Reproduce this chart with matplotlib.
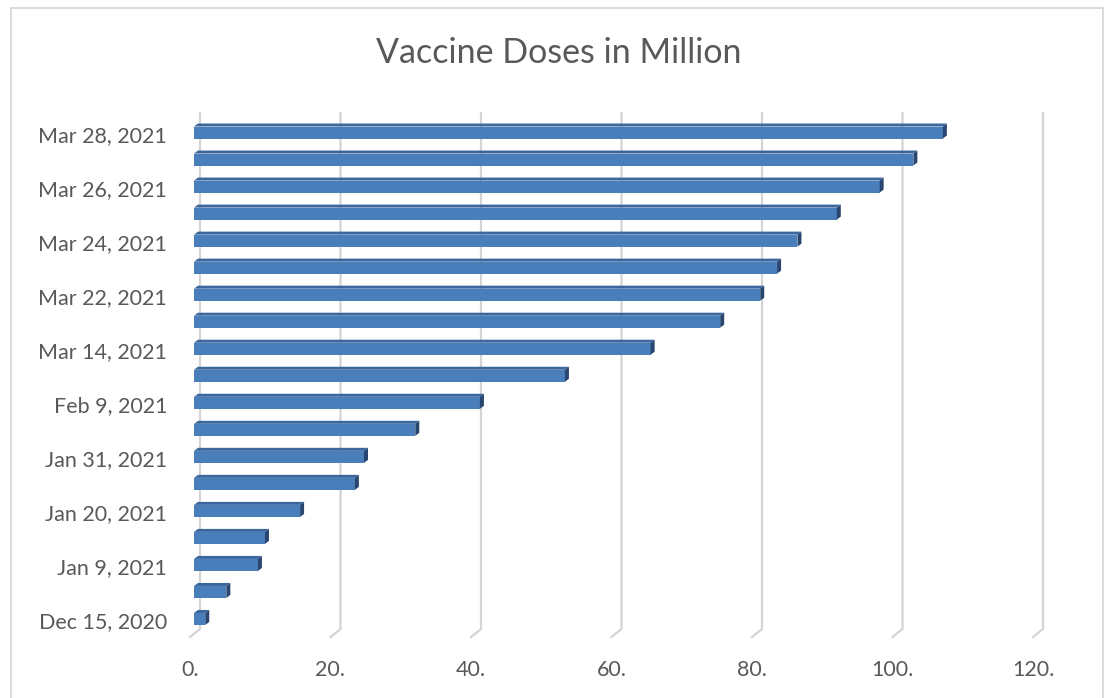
import matplotlib
matplotlib.use("Agg")
import matplotlib.pyplot as plt
from matplotlib.patches import Polygon, Rectangle
from matplotlib.transforms import ScaledTranslation

# Reporting dates (bottom to top); only every other date is labelled on the axis
dates = [
    "Dec 15, 2020", "", "Jan 9, 2021", "", "Jan 20, 2021", "",
    "Jan 31, 2021", "", "Feb 9, 2021", "", "Mar 14, 2021", "",
    "Mar 22, 2021", "", "Mar 24, 2021", "", "Mar 26, 2021", "",
    "Mar 28, 2021",
]
# Cumulative vaccine doses administered, in millions
doses = [
    1.6, 4.6, 9.1, 10.1, 15.1, 22.9, 24.2, 31.5, 40.7, 52.8,
    65.0, 74.9, 80.6, 83.0, 85.9, 91.5, 97.6, 102.4, 106.6,
]
x_ticks = [0, 20, 40, 60, 80, 100, 120]
x_tick_labels = [f"{t}." for t in x_ticks]

TEXT = "#595959"
GRID = "#D4D4D4"
FRONT = "#4A7EBB"
TOP = "#3C679E"
SIDE = "#28466F"
FONT = ["Lato", "DejaVu Sans"]

plt.rcParams["font.family"] = FONT

W, H, DPI = 1110, 698, 100
fig = plt.figure(figsize=(W / DPI, H / DPI), dpi=DPI)
fig.patch.set_facecolor("white")

# plot area in pixel terms
ax_left, ax_right = 194, 1037
ax_top, ax_bottom = 119, 632.5
ax = fig.add_axes([ax_left / W, 1 - ax_bottom / H,
                   (ax_right - ax_left) / W, (ax_bottom - ax_top) / H])
ax.set_xlim(0, 120)
ax.set_ylim(-0.5, len(doses) - 0.5)
ax.axis("off")

px_x = 120 / (ax_right - ax_left)            # data units per pixel (x)
px_y = len(doses) / (ax_bottom - ax_top)     # data units per pixel (y)

# 3-D depth of the chart floor / walls
back_dx = 6 * px_x
front_dx = -4 * px_x
grid_top = len(doses) - 0.5 + 6 * px_y
grid_bot = -0.5 + 3.5 * px_y
floor_front = -0.5 - 4.5 * px_y

# Back wall gridlines with the short floor segment toward the viewer
for t in x_ticks:
    ax.plot([t + back_dx, t + back_dx, t + front_dx],
            [grid_top, grid_bot, floor_front],
            color=GRID, lw=1.6, solid_joinstyle="miter", clip_on=False, zorder=1)

# Bars: front face plus top and end faces for the extruded look
bar_h = 12 * px_y
depth_x = 4 * px_x
depth_y = 3 * px_y
ypos = list(range(len(doses)))
ax.barh(ypos, doses, height=bar_h, color=FRONT, edgecolor="none", zorder=3)
for y, v in zip(ypos, doses):
    top = y + bar_h / 2
    bot = y - bar_h / 2
    ax.add_patch(Polygon([(0, top), (v, top), (v + depth_x, top + depth_y),
                          (depth_x, top + depth_y)],
                         closed=True, facecolor=TOP, edgecolor="none", zorder=3))
    ax.add_patch(Polygon([(v, bot), (v, top), (v + depth_x, top + depth_y),
                          (v + depth_x, bot + depth_y)],
                         closed=True, facecolor=SIDE, edgecolor="none", zorder=3))

# Category labels
label_shift = ScaledTranslation(0, -3.5 / DPI, fig.dpi_scale_trans)
for y, lab in zip(ypos, dates):
    if lab:
        ax.text(-27 * px_x, y, lab, ha="right", va="center", fontsize=15.5,
                color=TEXT, transform=ax.transData + label_shift, clip_on=False)

# Value axis labels sit on the front edge of the floor
for t, lab in zip(x_ticks, x_tick_labels):
    ax.text(t + front_dx, -0.5 - 37 * px_y, lab, ha="center", va="center",
            fontsize=15.5, color=TEXT, clip_on=False)

fig.text(559 / W, 1 - 53 / H, "Vaccine Doses in Million", ha="center",
         va="center", fontsize=24.5, color=TEXT)

# Chart area border
fig.patches.append(Rectangle((11 / W, -0.01), (1103 - 11) / W, 1 - 8 / H + 0.01,
                             transform=fig.transFigure, fill=False,
                             edgecolor=GRID, lw=1.2))

fig.savefig("out.png", dpi=DPI, facecolor="white")
